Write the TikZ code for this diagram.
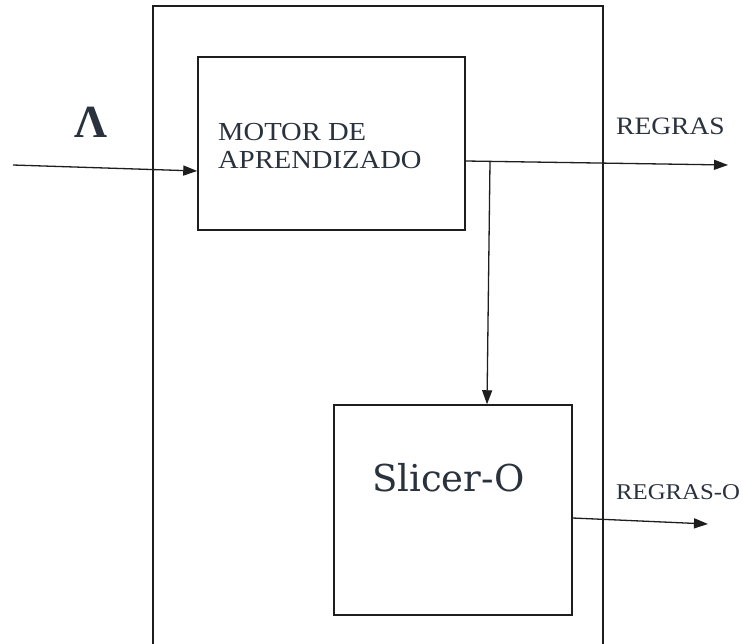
\documentclass[tikz,border=0pt]{standalone}
\usepackage{fontspec}
\setmainfont{Liberation Serif}
\newfontfamily\widefont[FakeStretch=1.1]{Liberation Serif}
\newfontfamily\slicerfont{DejaVu Serif}
\usetikzlibrary{arrows.meta}
\definecolor{txt}{RGB}{42,50,62}
\definecolor{ln}{RGB}{30,30,30}
\tikzset{
  box/.style={draw=ln, line width=1.5pt, inner sep=0pt},
  arr/.style={draw=ln, line width=1.3pt, -{Triangle[length=14pt,width=10pt]}},
  lbl/.style={text=txt, inner sep=0pt, anchor=base west}
}
\begin{document}
\begin{tikzpicture}[x=1pt,y=-1pt]
\useasboundingbox[fill=white] (0,0) rectangle (743,643);
% outer frame (extends past bottom)
\node[box, minimum width=450pt, minimum height=660pt] (frame) at (378,336) {};
% boxes
\node[box, minimum width=267pt, minimum height=173pt] (motor) at (331.5,143.5) {};
\node[box, minimum width=238pt, minimum height=210pt] (slicer) at (453,510) {};
% texts
\node[lbl, font=\fontsize{26}{28}\widefont] (t1) at (218,140) {MOTOR DE};
\node[lbl, font=\fontsize{26}{28}\widefont] (t2) at (218,168) {APRENDIZADO};
\node[lbl, font=\fontsize{37}{37}\slicerfont] (t3) at (372,491) {Slicer-O};
\node[lbl, font=\fontsize{25}{26}\widefont] (t4) at (616,134) {REGRAS};
\node[lbl, font=\fontsize{22.5}{24}\widefont] (t5) at (616,499) {REGRAS-O};
\node[text=txt, inner sep=0pt, anchor=base, font=\fontsize{46}{46}\selectfont\bfseries] (lam) at (91,137) {Λ};
% connectors
\coordinate (inp) at (13,165);
\coordinate (rout) at (728,165);
\coordinate (br) at (490,161.5);
\coordinate (rout2) at (708,524);
\draw[arr] (inp) -- ([yshift=-27.5pt]motor.west);
\draw[arr] ([yshift=-17.5pt]motor.east) -- (rout);
\draw[arr] (br) -- ([xshift=34pt]slicer.north);
\draw[arr] ([yshift=-8pt]slicer.east) -- (rout2);
\end{tikzpicture}
\end{document}
